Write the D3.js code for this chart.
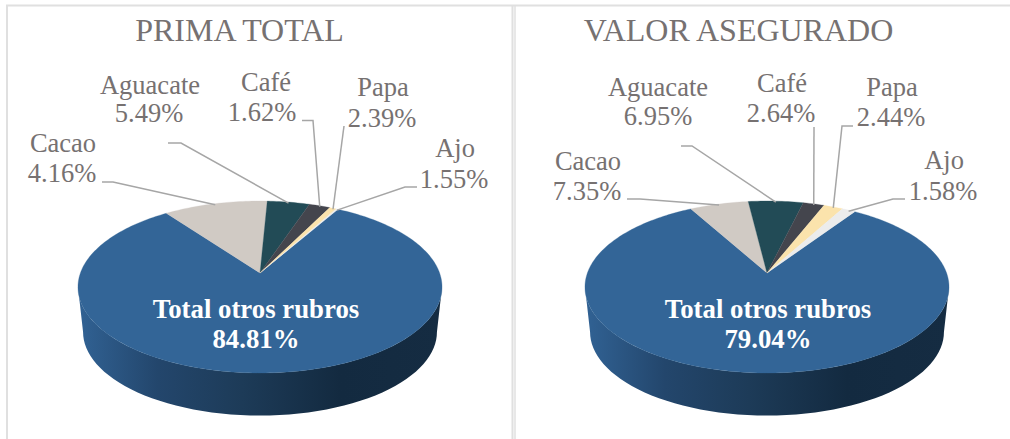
<!DOCTYPE html>
<html><head><meta charset="utf-8">
<script src="https://cdn.jsdelivr.net/npm/d3@7"></script>
<style>html,body{margin:0;padding:0;background:#fff}svg{display:block}text{font-family:"Liberation Serif",serif}</style>
</head><body><svg id="c" width="1010" height="439"></svg>
<script>
// Data
const categories = ["Total otros rubros","Cacao","Aguacate","Café","Papa","Ajo"];
const titles = ["PRIMA TOTAL","VALOR ASEGURADO"];
const primaLabels = ["84.81%","4.16%","5.49%","1.62%","2.39%","1.55%"];
const valorLabels = ["79.04%","7.35%","6.95%","2.64%","2.44%","1.58%"];
// slice shares as they are drawn in the picture (%)
const primaDrawn = [81.7,10.8,4.4,2.2,0.7,0.2];
const valorDrawn = [82.6,6.1,5.7,2.2,2.0,1.4];
const colors = ["#336597","#d0cac4","#224b56","#44454d","#fbe3ac","#ececec"];

// Layout
const W=1010,H=439;
const panels=[
 {cx:260,title:titles[0],tx:239.5,labels:primaLabels,drawn:primaDrawn,start:29.7,
  centre:[256,318,348],
  text:[null,[63,152,62,182],[150,94,149,122],[266,91,262,121],[383,96,382,127],[455,157,454,188]],
  elbow:[null,[[102,182],[113,182]],[[168,143],[181,143]],[[302,120.5],[313,120.5]],[[344,126]],[[417,187],[405,187]]]},
 {cx:767,title:titles[1],tx:738.5,labels:valorLabels,drawn:valorDrawn,start:33.7,
  centre:[768,318,348],
  text:[null,[588,170,587,200],[658,96,658,125],[782,92,781,122],[892,96,891,126],[944,169,943,200]],
  elbow:[null,[[627,199],[640,199]],[[681,146],[692,146]],[[814,127]],[[853,126],[842,126]],[[905,199],[893,199]]]}
];
const apexY=273, k=0.163, S=83.7, R=179.6, limb=Math.acos(-k), wallScale=.972, wallDrop=45, ellY=287;
const textCol="#767171", lineCol="#a6a6a6";

function proj(cx,th,rr=1){ // th clockwise from top; perspective-mapped disc
  const u=rr*Math.sin(th), v=-rr*Math.cos(th), f=1/(1-k*v);
  return [cx+R*u*f, apexY+S*v*f];
}
function projBottom(cx,th){
  const p=proj(cx,th);
  return [cx+(p[0]-cx)*wallScale, ellY+(p[1]-ellY)*wallScale+wallDrop];
}
const svg=d3.select("#c");
const defs=svg.append("defs");
const grad=defs.append("linearGradient").attr("id","wall");
[[0,"#316294"],[.22,"#23466c"],[.45,"#1d3b58"],[.72,"#132a40"],[1,"#152c42"]].forEach(s=>grad.append("stop").attr("offset",s[0]).attr("stop-color",s[1]));

// frame
const frame=svg.append("g").attr("stroke","#e0e0e0").attr("fill","none");
frame.append("line").attr("x1",6).attr("x2",1010).attr("y1",5.5).attr("y2",5.5).attr("stroke-width",2);
frame.append("line").attr("x1",7).attr("x2",7).attr("y1",5).attr("y2",439).attr("stroke-width",2);
frame.append("line").attr("x1",512.5).attr("x2",512.5).attr("y1",5).attr("y2",439).attr("stroke-width",2);
frame.append("line").attr("x1",515).attr("x2",515).attr("y1",5).attr("y2",439).attr("stroke-width",1.5);

const line=d3.line();
panels.forEach(p=>{
  const g=svg.append("g");
  g.append("text").attr("x",p.tx).attr("y",41).attr("text-anchor","middle").attr("font-size",32).attr("fill",textCol).text(p.title);
  const a0=p.start*Math.PI/180;
  const arcs=d3.pie().sort(null).value(d=>d).startAngle(a0).endAngle(a0+2*Math.PI)(p.drawn);
  // side wall
  const top=d3.range(0,61).map(i=>proj(p.cx,limb+(2*Math.PI-2*limb)*i/60));
  const bot=d3.range(60,-1,-1).map(i=>projBottom(p.cx,limb+(2*Math.PI-2*limb)*i/60));
  g.append("path").attr("d",line([...top,...bot])+"Z").attr("fill","url(#wall)");
  // top slices
  g.selectAll("path.s").data(arcs).join("path").attr("class","s")
   .attr("fill",(d,i)=>colors[i]).attr("stroke",(d,i)=>colors[i]).attr("stroke-width",.3)
   .attr("d",d=>{
     const n=Math.max(4,Math.ceil((d.endAngle-d.startAngle)/0.02));
     const pts=d3.range(n+1).map(i=>proj(p.cx,d.startAngle+(d.endAngle-d.startAngle)*i/n));
     return line([[p.cx,apexY],...pts])+"Z";
   });
  // leaders
  arcs.forEach((d,i)=>{
    if(!p.elbow[i])return;
    const end=proj(p.cx,(d.startAngle+d.endAngle)/2,1.0);
    g.append("path").attr("d",line([...p.elbow[i],[end[0],end[1]+1]])).attr("fill","none")
     .attr("stroke",lineCol).attr("stroke-width",1.5);
    const t=p.text[i];
    g.append("text").attr("x",t[0]).attr("y",t[1]).attr("text-anchor","middle").attr("font-size",26.5).attr("fill",textCol).text(categories[i]);
    g.append("text").attr("x",t[2]).attr("y",t[3]).attr("text-anchor","middle").attr("font-size",26.5).attr("fill",textCol).text(p.labels[i]);
  });
  g.append("text").attr("x",p.centre[0]).attr("y",p.centre[1]).attr("text-anchor","middle").attr("font-size",26.8).attr("font-weight","bold").attr("fill","#fff").text(categories[0]);
  g.append("text").attr("x",p.centre[0]).attr("y",p.centre[2]).attr("text-anchor","middle").attr("font-size",26.8).attr("font-weight","bold").attr("fill","#fff").text(p.labels[0]);
});
</script></body></html>
